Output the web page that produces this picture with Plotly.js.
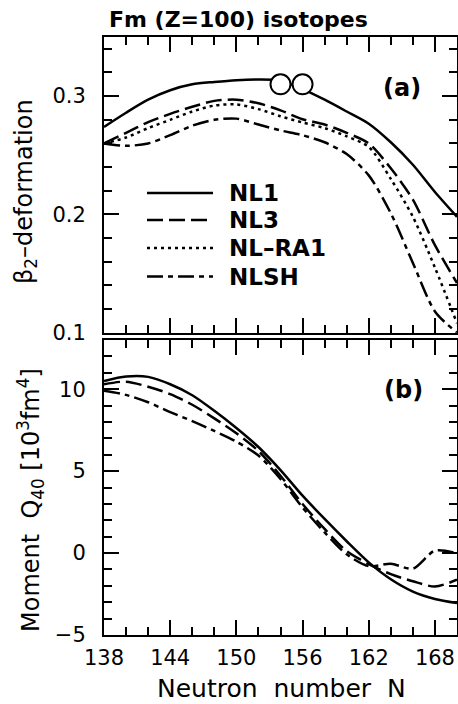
<!DOCTYPE html>
<html>
<head>
<meta charset="utf-8">
<script src="https://cdn.plot.ly/plotly-3.0.1.min.js"></script>
<style>html,body{margin:0;padding:0;background:#fff;}#chart{width:458px;height:704px;}</style>
</head>
<body>
<div id="chart"></div>
<script>
// Neutron numbers
const neutronN = [138,140,142,144,146,148,150,152,154,156,158,160,162,164,166,168,170];

// (a) beta_2 deformation
const betaNL1   = [0.274,0.286,0.297,0.305,0.310,0.312,0.3135,0.314,0.313,0.306,0.297,0.287,0.2767,0.261,0.242,0.219,0.198];
const betaNL3   = [0.260,0.269,0.278,0.285,0.291,0.296,0.297,0.294,0.288,0.2805,0.276,0.269,0.260,0.239,0.2125,0.174,0.142];
const betaNLRA1 = [0.260,0.265,0.273,0.280,0.287,0.292,0.293,0.289,0.283,0.2777,0.273,0.266,0.257,0.230,0.198,0.155,0.108];
const betaNLSH  = [0.260,0.258,0.260,0.267,0.275,0.280,0.281,0.276,0.271,0.267,0.261,0.251,0.233,0.201,0.159,0.118,0.100];

// open circles on NL1 curve
const circleN = [154,156];
const circleBeta = [0.310,0.310];

// (b) hexadecapole moment Q40 [10^3 fm^4]
const qNL1  = [10.5,10.77,10.75,10.3,9.63,8.68,7.63,6.47,5.06,3.5,2.08,0.72,-0.57,-1.6,-2.35,-2.8,-3.05];
const qNL3  = [10.3,10.46,10.15,9.7,9.05,8.22,7.31,6.23,4.72,2.99,1.47,0.12,-0.67,-1.29,-1.72,-2.04,-1.63];
const qNLSH = [9.9,9.65,9.2,8.6,8.05,7.45,6.8,5.95,4.52,2.78,1.26,-0.08,-0.8,-0.65,-0.95,0.15,-0.02];

const seriesNames = ['NL1','NL3','NL\u2013RA1','NLSH'];
const dashes = ['solid','16px,6px','3px,4px','16px,5px,5px,5px'];

const LW = 2.5;
function line(x, y, dash, xa, ya, name){
  return {x:x, y:y, mode:'lines', name:name, xaxis:xa, yaxis:ya,
    line:{color:'#000', width:LW, dash:dash, shape:'spline', smoothing:0.8},
    showlegend:false, hoverinfo:'skip'};
}

const traces = [
  line(neutronN, betaNL1, dashes[0], 'x2','y2', seriesNames[0]),
  line(neutronN, betaNL3, dashes[1], 'x2','y2', seriesNames[1]),
  line(neutronN, betaNLRA1, dashes[2], 'x2','y2', seriesNames[2]),
  line(neutronN, betaNLSH, dashes[3], 'x2','y2', seriesNames[3]),
  {x:circleN, y:circleBeta, mode:'markers', xaxis:'x2', yaxis:'y2', showlegend:false, hoverinfo:'skip',
   marker:{symbol:'circle', size:20, color:'#fff', line:{color:'#000', width:2}}},
  line(neutronN, qNL1, dashes[0], 'x','y', seriesNames[0]),
  line(neutronN, qNL3, dashes[1], 'x','y', seriesNames[1]),
  line(neutronN, qNLSH, dashes[3], 'x','y', seriesNames[3])
];

const tickFont = {family:'DejaVu Sans', size:21, color:'#000'};
function xAxis(extra){
  return Object.assign({range:[138,170], tick0:138, dtick:6, ticks:'inside', ticklen:15, tickwidth:2, tickcolor:'#000',
    minor:{dtick:2, tick0:138, ticks:'inside', ticklen:8, tickwidth:2, tickcolor:'#000'},
    showline:true, linewidth:2, linecolor:'#000', mirror:'allticks', showgrid:false, zeroline:false,
    tickfont:tickFont, ticklabelstandoff:3}, extra);
}
function yAxis(extra){
  return Object.assign({ticks:'inside', ticklen:15, tickwidth:2, tickcolor:'#000',
    showline:true, linewidth:2, linecolor:'#000', mirror:'allticks', showgrid:false, zeroline:false,
    tickfont:tickFont, ticklabelstandoff:12}, extra);
}

const yTop = 0.5055, yBot = 0.4933;
function py(pix){ return (635 - pix) / 598; }
function px(pix){ return (pix - 104) / 353; }

const legendRows = [193, 220, 248, 276.5];
const shapes = legendRows.map((r,i)=>({type:'line', xref:'paper', yref:'paper',
  x0:px(147), x1:px(213), y0:py(r), y1:py(r), line:{color:'#000', width:LW, dash:dashes[i]}}));

const annotations = legendRows.map((r,i)=>({xref:'paper', yref:'paper', x:px(227), y:py(r),
  xanchor:'left', yanchor:'middle', text:'<b>'+seriesNames[i]+'</b>', showarrow:false,
  font:{family:'DejaVu Sans', size:23, color:'#000'}}));

annotations.push(
  {xref:'paper', yref:'paper', x:px(107), y:1, xanchor:'left', yanchor:'bottom', yshift:3,
   text:'<b>Fm (Z=100) isotopes</b>', showarrow:false, font:{family:'DejaVu Sans', size:22, color:'#000'}},
  {xref:'paper', yref:'paper', x:px(402), y:py(88), xanchor:'center', yanchor:'middle',
   text:'<b>(a)</b>', showarrow:false, font:{family:'DejaVu Sans', size:24, color:'#000'}},
  {xref:'paper', yref:'paper', x:px(403), y:py(390), xanchor:'center', yanchor:'middle',
   text:'<b>(b)</b>', showarrow:false, font:{family:'DejaVu Sans', size:24, color:'#000'}},
  {xref:'paper', yref:'paper', x:px(25), y:py(192), xanchor:'center', yanchor:'middle', textangle:-90,
   text:'\u03b2<sub>2</sub>\u2013deformation', showarrow:false, font:{family:'DejaVu Sans', size:24, color:'#000'}},
  {xref:'paper', yref:'paper', x:px(30), y:py(500), xanchor:'center', yanchor:'middle', textangle:-90,
   text:'Moment\u00a0\u00a0Q<sub>40</sub> [10<sup>3</sup>fm<sup>4</sup>]', showarrow:false, font:{family:'DejaVu Sans', size:24, color:'#000'}},
  {xref:'paper', yref:'paper', x:px(281), y:py(688), xanchor:'center', yanchor:'middle',
   text:'Neutron\u00a0\u00a0number\u00a0\u00a0N', showarrow:false, font:{family:'DejaVu Sans', size:25, color:'#000'}}
);

const layout = {
  width:458, height:704,
  margin:{l:104, r:1, t:37, b:69, pad:0},
  paper_bgcolor:'#fff', plot_bgcolor:'#fff',
  font:{family:'DejaVu Sans', color:'#000'},
  showlegend:false,
  xaxis: xAxis({anchor:'y'}),
  xaxis2: xAxis({anchor:'y2', showticklabels:false}),
  yaxis: yAxis({anchor:'x', domain:[0,yBot], range:[-5,13], tick0:0, dtick:5,
    minor:{dtick:1, ticks:'inside', ticklen:8, tickwidth:2, tickcolor:'#000'}}),
  yaxis2: yAxis({anchor:'x2', domain:[yTop,1], range:[0.1,0.35], tick0:0.1, dtick:0.1, tickformat:'.1f',
    minor:{dtick:0.02, tick0:0.1, ticks:'inside', ticklen:8, tickwidth:2, tickcolor:'#000'}}),
  shapes:shapes,
  annotations:annotations
};

Plotly.newPlot('chart', traces, layout, {displayModeBar:false, staticPlot:true});
</script>
</body>
</html>
